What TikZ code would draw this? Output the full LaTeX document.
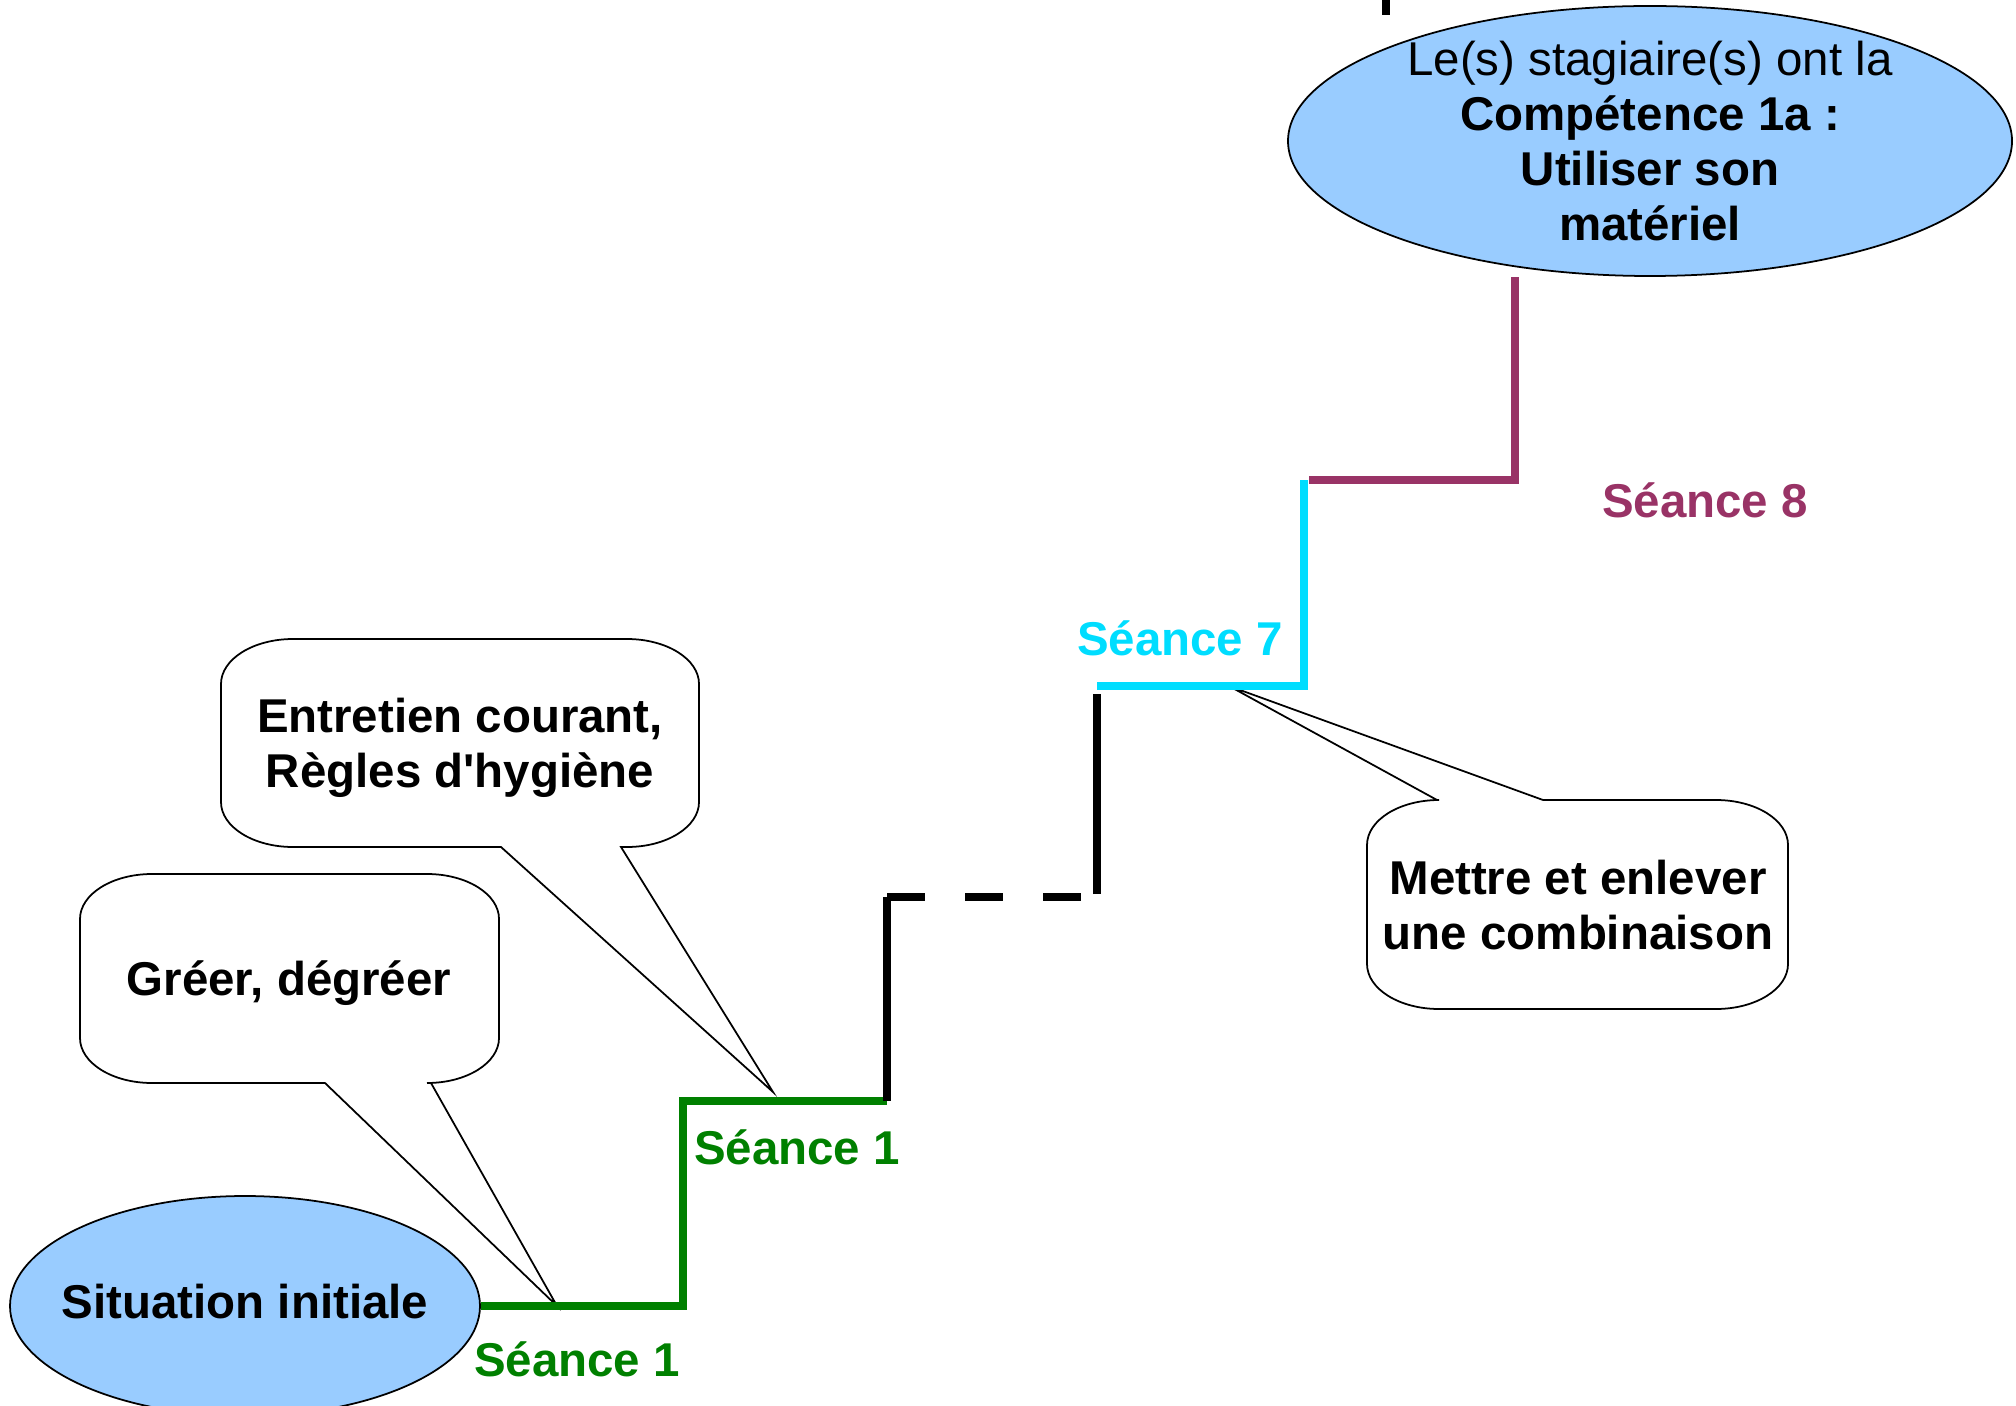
\documentclass[tikz,border=0pt]{standalone}
\usepackage{fontspec}
\setmainfont{Liberation Sans}
\usetikzlibrary{shapes.geometric}
\definecolor{bleuciel}{RGB}{153,204,255}
\definecolor{vertseance}{RGB}{0,128,0}
\definecolor{cyanseance}{RGB}{0,221,255}
\definecolor{prune}{RGB}{153,51,102}
\tikzset{
  etat/.style={ellipse, draw=black, line width=0.5pt, fill=bleuciel, inner sep=0pt},
  etape/.style={line width=2.3pt},
  bulle/.style={draw=black, line width=0.5pt, fill=white},
  texte/.style={font=\fontsize{13.5}{15.6}\selectfont\bfseries, align=center},
  seance/.style={font=\fontsize{13.5}{15.6}\selectfont\bfseries}
}

\begin{document}
\begin{tikzpicture}
\useasboundingbox (0,0) rectangle (20.16,14.05);
\draw[bulle] (3.25,3.22) -- (1.52,3.22) arc[start angle=270, end angle=180, x radius=0.72, y radius=0.45] -- (0.80,4.86) arc[start angle=180, end angle=90, x radius=0.72, y radius=0.45] -- (4.27,5.31) arc[start angle=90, end angle=0, x radius=0.72, y radius=0.45] -- (4.99,3.67) arc[start angle=0, end angle=-90, x radius=0.72, y radius=0.45] -- (4.31,3.22) -- (5.57,0.99) -- cycle;
\draw[bulle] (5.01,5.58) -- (2.93,5.58) arc[start angle=270, end angle=180, x radius=0.72, y radius=0.45] -- (2.21,7.21) arc[start angle=180, end angle=90, x radius=0.72, y radius=0.45] -- (6.27,7.66) arc[start angle=90, end angle=0, x radius=0.72, y radius=0.45] -- (6.99,6.03) arc[start angle=0, end angle=-90, x radius=0.72, y radius=0.45] -- (6.21,5.58) -- (7.73,3.13) -- cycle;
\draw[bulle] (15.43,6.05) -- (17.16,6.05) arc[start angle=90, end angle=0, x radius=0.72, y radius=0.45] -- (17.88,4.41) arc[start angle=0, end angle=-90, x radius=0.72, y radius=0.45] -- (14.39,3.96) arc[start angle=270, end angle=180, x radius=0.72, y radius=0.45] -- (13.67,5.60) arc[start angle=180, end angle=90, x radius=0.72, y radius=0.45] -- (14.37,6.05) -- (12.29,7.19) -- cycle;
\node[texte] (greer) at (2.89,4.22) {Gréer, dégréer};
\node[texte] (entretien) at (4.60,6.57) {Entretien courant,\\Règles d\textquotesingle hygiène};
\node[texte] (combinaison) at (15.78,5.00) {Mettre et enlever\\une combinaison};
\node[etat, minimum width=4.70cm, minimum height=2.20cm] (initiale) at (2.45,0.99) {};
\node[texte] at ([yshift=0.04cm]initiale.center) {Situation initiale};
\node[etat, minimum width=7.24cm, minimum height=2.70cm] (competence) at (16.50,12.64) {};
\node[texte] at (competence) {\mdseries Le(s) stagiaire(s) ont la\\\bfseries Compétence 1a :\\Utiliser son\\matériel};
\coordinate (a1) at (6.83,0.99);
\coordinate (a2) at (6.83,3.04);
\coordinate (a3) at (8.87,3.04);
\coordinate (b1) at (8.87,5.08);
\coordinate (b2) at (10.97,5.08);
\coordinate (b3) at (10.97,5.11);
\coordinate (b4) at (10.97,7.11);
\coordinate (c1) at (10.97,7.19);
\coordinate (c2) at (13.04,7.19);
\coordinate (c3) at (13.04,9.25);
\coordinate (d1) at (13.09,9.25);
\coordinate (d2) at (15.15,9.25);
\coordinate (h1) at (13.86,14.05);
\coordinate (h2) at (13.86,13.90);
\draw[etape, vertseance] (initiale.east) -- (a1) -- (a2) -- (a3);
\draw[etape] (a3) -- (b1);
\draw[etape, dash pattern=on 0.38cm off 0.40cm] (b1) -- (b2);
\draw[etape] (b3) -- (b4);
\draw[etape, cyanseance] (c1) -- (c2) -- (c3);
\draw[etape, prune] (d1) -- (d2) -- (d2 |- competence.south);
\draw[etape] (h1) -- (h2);
\node[seance, text=vertseance] (s1a) at (5.77,0.46) {Séance 1};
\node[seance, text=vertseance] (s1b) at (7.97,2.58) {Séance 1};
\node[seance, text=cyanseance] (s7) at (11.80,7.67) {Séance 7};
\node[seance, text=prune] (s8) at (17.05,9.05) {Séance 8};
\end{tikzpicture}
\end{document}
